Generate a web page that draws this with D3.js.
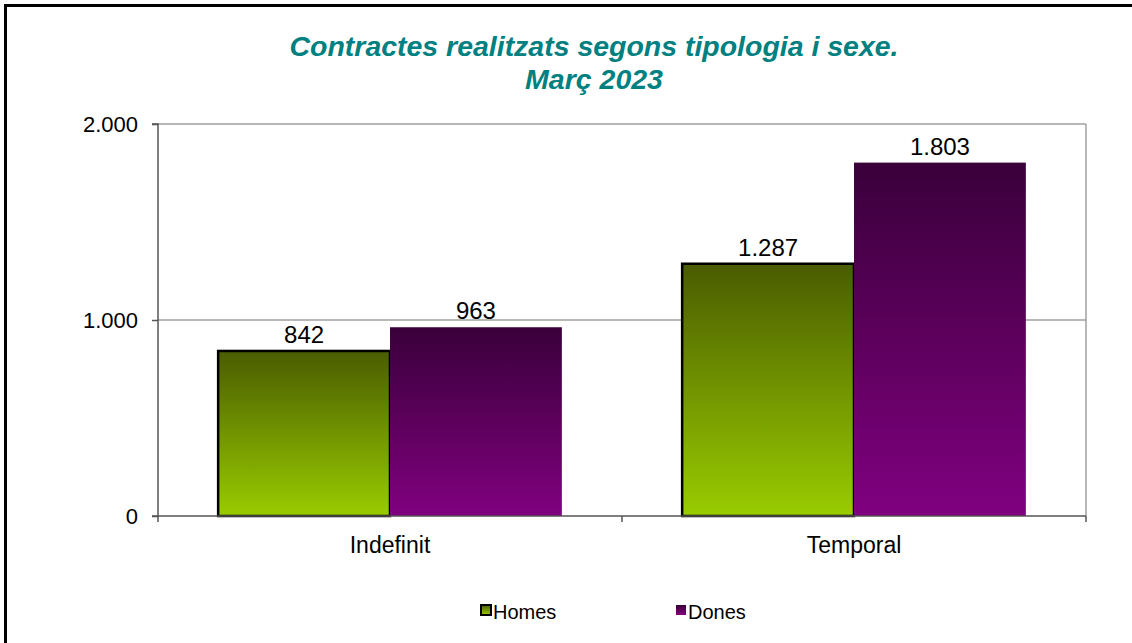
<!DOCTYPE html>
<html><head><meta charset="utf-8">
<script src="https://cdn.jsdelivr.net/npm/d3@7"></script>
<style>body{margin:0;background:#fff}svg{display:block}</style>
</head><body>
<svg id="c" width="1132" height="643"></svg>
<script>
const categories = ["Indefinit", "Temporal"];
const seriesNames = ["Homes", "Dones"];
const homes = [842, 1287];
const dones = [963, 1803];
const yTicks = [0, 1000, 2000];
const titleLines = ["Contractes realitzats segons tipologia i sexe.", "Març 2023"];

const svg = d3.select("#c");
const font = "'Liberation Sans', Arial, sans-serif";
const fmt = v => d3.format(",")(v).replace(/,/g, ".");

const L = 158, R = 1086, T = 124, B = 516;
const x = d3.scaleBand().domain(categories).range([L, R]).paddingInner(0).paddingOuter(0);
const xs = d3.scaleBand().domain(seriesNames).range([0, x.bandwidth()]).paddingInner(0).paddingOuter(0.35);
const y = d3.scaleLinear().domain([0, 2000]).range([B, T]);

const defs = svg.append("defs");
function grad(id, top, bot) {
  const g = defs.append("linearGradient").attr("id", id).attr("x1", 0).attr("y1", 0).attr("x2", 0).attr("y2", 1);
  g.append("stop").attr("offset", "0%").attr("stop-color", top);
  g.append("stop").attr("offset", "100%").attr("stop-color", bot);
}
grad("gH", "#4a5c00", "#99cc00");
grad("gD", "#3a003a", "#800080");

// frame
svg.append("path").attr("d", "M5.5,643 V5.5 H1132").attr("fill", "none").attr("stroke", "#000").attr("stroke-width", 3);

// title
const tl = [609, 138];
svg.append("text").attr("font-family", font).attr("font-size", 27)
  .attr("font-weight", "bold").attr("font-style", "italic").attr("fill", "#008080").attr("text-anchor", "middle")
  .selectAll("tspan").data(titleLines).join("tspan").attr("x", 594).attr("y", (d, i) => 56 + i * 33)
  .attr("textLength", (d, i) => tl[i]).attr("lengthAdjust", "spacingAndGlyphs").text(d => d);

// gridlines
svg.append("g").selectAll("line").data(yTicks.filter(d => d > 0)).join("line")
  .attr("x1", L).attr("x2", R).attr("y1", d => y(d)).attr("y2", d => y(d))
  .attr("stroke", "#a0a0a0").attr("stroke-width", 1.5);
svg.append("line").attr("x1", R).attr("x2", R).attr("y1", T).attr("y2", B).attr("stroke", "#a0a0a0").attr("stroke-width", 1.5);

// bars
const data = categories.map((c, i) => ({c, vals: [{s: "Homes", v: homes[i]}, {s: "Dones", v: dones[i]}]}));
const gcat = svg.append("g").selectAll("g").data(data).join("g").attr("transform", d => `translate(${x(d.c)},0)`);
gcat.selectAll("rect").data(d => d.vals).join("rect")
  .attr("x", d => xs(d.s)).attr("width", xs.bandwidth())
  .attr("y", d => y(d.v)).attr("height", d => y(0) - y(d.v))
  .attr("fill", d => d.s === "Homes" ? "url(#gH)" : "url(#gD)")
  .attr("stroke", d => d.s === "Homes" ? "#000" : "none").attr("stroke-width", 2.5);
gcat.selectAll("text").data(d => d.vals).join("text")
  .attr("x", d => xs(d.s) + xs.bandwidth() / 2).attr("y", d => y(d.v) - 8)
  .attr("text-anchor", "middle").attr("font-family", font).attr("font-size", 24).attr("fill", "#000")
  .text(d => fmt(d.v));

// y axis
const ya = svg.append("g").attr("transform", `translate(${L},0)`)
  .call(d3.axisLeft(y).tickValues(yTicks).tickSize(6).tickPadding(14).tickFormat(fmt));
ya.select(".domain").attr("stroke", "#555").attr("stroke-width", 1.5).attr("d", `M-6,${B}H0V${T}H-6`);
ya.selectAll(".tick line").attr("stroke", "#555").attr("stroke-width", 1.5);
ya.selectAll("text").attr("font-family", font).attr("font-size", 22).attr("fill", "#000");

// x axis
const xa = svg.append("g").attr("transform", `translate(0,${B})`);
xa.append("line").attr("x1", L).attr("x2", R).attr("stroke", "#555").attr("stroke-width", 1.5);
xa.selectAll("line.t").data([L, ...categories.map(c => x(c) + x.bandwidth())]).join("line").attr("class", "t")
  .attr("x1", d => d).attr("x2", d => d).attr("y1", 0).attr("y2", 6).attr("stroke", "#555").attr("stroke-width", 1.5);
xa.selectAll("text").data(categories).join("text")
  .attr("x", d => x(d) + x.bandwidth() / 2).attr("y", 37).attr("text-anchor", "middle")
  .attr("font-family", font).attr("font-size", 23).attr("fill", "#000").text(d => d);

// legend
const lg = svg.append("g");
const lx = [481, 676];
seriesNames.forEach((s, i) => {
  lg.append("rect").attr("x", lx[i]).attr("y", 605).attr("width", 10).attr("height", 10)
    .attr("fill", i === 0 ? "url(#gH)" : "url(#gD)")
    .attr("stroke", i === 0 ? "#000" : "none").attr("stroke-width", 2);
  lg.append("text").attr("x", lx[i] + 12).attr("y", 619).attr("font-family", font).attr("font-size", 20)
    .attr("fill", "#000").text(s);
});
</script>
</body></html>
